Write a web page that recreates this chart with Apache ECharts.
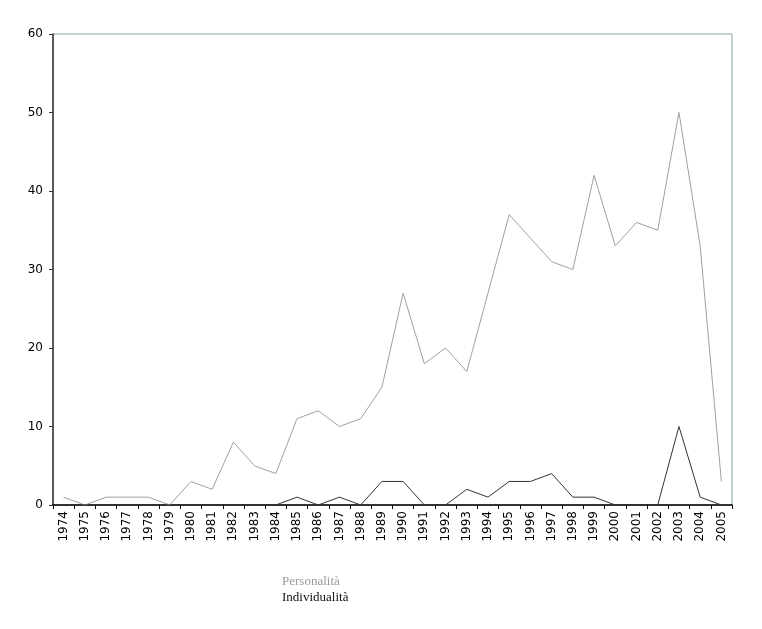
<!DOCTYPE html>
<html>
<head>
<meta charset="utf-8">
<script src="https://cdn.jsdelivr.net/npm/echarts@6/dist/echarts.min.js"></script>
<style>html,body{margin:0;padding:0;background:#fff;}#c{width:762px;height:629px;}</style>
</head>
<body>
<div id="c"></div>
<script>
const years = ['1974','1975','1976','1977','1978','1979','1980','1981','1982','1983','1984','1985','1986','1987','1988','1989','1990','1991','1992','1993','1994','1995','1996','1997','1998','1999','2000','2001','2002','2003','2004','2005'];
const personalita = [1,0,1,1,1,0,3,2,8,5,4,11,12,10,11,15,27,18,20,17,27,37,34,31,30,42,33,36,35,50,33,3];
const individualita = [0,0,0,0,0,0,0,0,0,0,0,1,0,1,0,3,3,0,0,2,1,3,3,4,1,1,0,0,0,10,1,0];
const yTicks = {min:0, max:60, interval:10};

const chart = echarts.init(document.getElementById('c'));
chart.setOption({
  animation:false,
  backgroundColor:'#fff',
  grid:{left:53, right:30, top:34, bottom:124, show:true, borderColor:'#8ea5a5', borderWidth:1, backgroundColor:'transparent'},
  legend:{
    orient:'vertical', left:272, top:570, icon:'none', itemWidth:0, itemHeight:10, itemGap:3,
    textStyle:{fontFamily:'Liberation Serif', fontSize:13},
    data:[{name:'Personalità', textStyle:{color:'#9a9a9a'}},{name:'Individualità', textStyle:{color:'#111'}}]
  },
  xAxis:{
    type:'category', data:years, boundaryGap:true,
    axisLine:{lineStyle:{color:'#000', width:1.5}},
    axisTick:{show:true, alignWithLabel:false, length:4, lineStyle:{color:'#000'}},
    axisLabel:{rotate:90, interval:0, fontFamily:'DejaVu Sans', fontSize:12, color:'#000', margin:6},
    splitLine:{show:false}
  },
  yAxis:{
    type:'value', min:yTicks.min, max:yTicks.max, interval:yTicks.interval,
    axisLine:{show:true, lineStyle:{color:'#333', width:1.5}},
    axisTick:{show:true, length:4, lineStyle:{color:'#333'}},
    axisLabel:{fontFamily:'DejaVu Sans', fontSize:12, color:'#000', margin:10},
    splitLine:{show:false}
  },
  series:[
    {name:'Personalità', type:'line', data:personalita, symbol:'none', lineStyle:{color:'#a0a0a0', width:1}, itemStyle:{color:'#a0a0a0'}},
    {name:'Individualità', type:'line', data:individualita, symbol:'none', lineStyle:{color:'#333', width:1}, itemStyle:{color:'#333'}}
  ]
});
</script>
</body>
</html>
